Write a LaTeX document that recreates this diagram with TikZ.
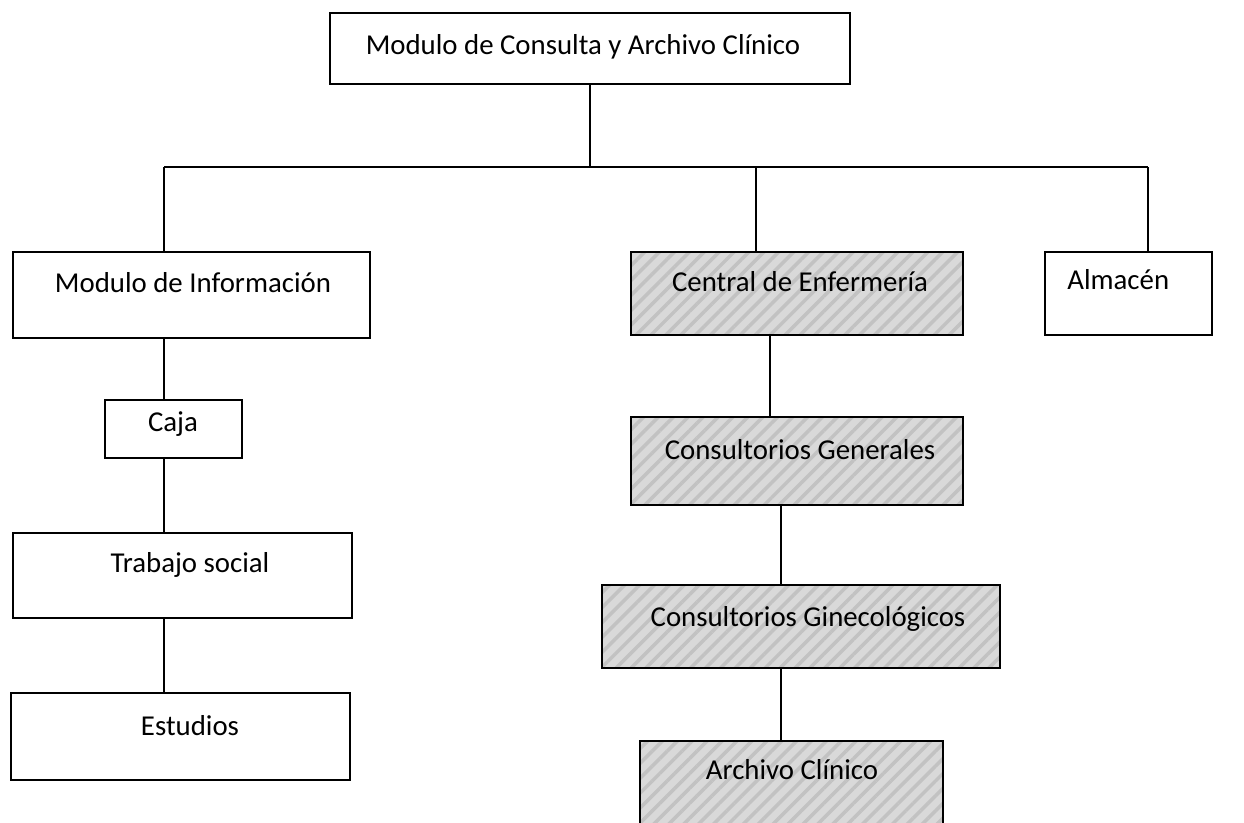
\documentclass[tikz,border=0pt]{standalone}
\usepackage{fontspec}
\setmainfont{Carlito}
\usetikzlibrary{patterns.meta}
\definecolor{hatchbg}{HTML}{D9D9D9}
\definecolor{hatchln}{HTML}{C2C2C2}
\begin{document}
\begin{tikzpicture}[x=0.02cm,y=-0.02cm,
  box/.style={draw=black,line width=1.1pt,rectangle,inner sep=0pt,fill=white},
  shaded/.style={box,fill=hatchbg,
    postaction={pattern={Lines[angle=45,distance=6pt,line width=2pt]},pattern color=hatchln},
    postaction={draw=black,line width=1.1pt}},
  txt/.style={inner sep=0pt,anchor=base,font=\fontsize{16.4}{19}\selectfont},
  link/.style={draw=black,line width=1.1pt}]
\useasboundingbox (0,0) rectangle (1244,822);

% boxes
\node[box,minimum width=10.4cm,minimum height=1.42cm] (top) at (590,48.5) {};
\node[box,minimum width=7.14cm,minimum height=1.72cm] (info) at (191.5,295) {};
\node[shaded,minimum width=6.64cm,minimum height=1.66cm] (central) at (797,293.5) {};
\node[box,minimum width=3.34cm,minimum height=1.66cm] (almacen) at (1128.5,293.5) {};
\node[box,minimum width=2.74cm,minimum height=1.16cm] (caja) at (173.5,429) {};
\node[box,minimum width=6.78cm,minimum height=1.70cm] (trabajo) at (182.5,575.5) {};
\node[box,minimum width=6.78cm,minimum height=1.74cm] (estudios) at (180.5,736.5) {};
\node[shaded,minimum width=6.64cm,minimum height=1.76cm] (consgen) at (797,461) {};
\node[shaded,minimum width=7.96cm,minimum height=1.66cm] (consgin) at (801,626.5) {};
\node[shaded,minimum width=6.06cm,minimum height=2.18cm] (archivo) at (791.5,795.5) {};

% labels
\node[txt] (topT) at (583,54.5) {Modulo de Consulta y Archivo Clínico};
\node[txt] (infoT) at (193,292.5) {Modulo de Información};
\node[txt] (centralT) at (800,291.5) {Central de Enfermería};
\node[txt,anchor=base west] (almacenT) at (1067,289.5) {Almacén};
\node[txt] (cajaT) at (173,431.5) {Caja};
\node[txt] (trabajoT) at (190,572.5) {Trabajo social};
\node[txt] (estudiosT) at (190,735.5) {Estudios};
\node[txt] (consgenT) at (800,459.5) {Consultorios Generales};
\node[txt] (consginT) at (808,626.5) {Consultorios Ginecológicos};
\node[txt] (archivoT) at (792,779.5) {Archivo Clínico};

% junction points on the horizontal bus
\coordinate (jtop) at (590,167);
\coordinate (jinfo) at (164,167);
\coordinate (jcentral) at (756,167);
\coordinate (jalm) at (1148,167);

% connectors
\draw[link] (top.south -| jtop) -- (jtop);
\draw[link] (jinfo) -- (jalm);
\draw[link] (jinfo) -- (jinfo |- info.north);
\draw[link] (jcentral) -- (jcentral |- central.north);
\draw[link] (jalm) -- (jalm |- almacen.north);
\coordinate (xleft) at (164,0);
\draw[link] (info.south -| xleft) -- (caja.north -| xleft);
\draw[link] (caja.south -| xleft) -- (trabajo.north -| xleft);
\draw[link] (trabajo.south -| xleft) -- (estudios.north -| xleft);
\coordinate (xmid) at (770,0);
\coordinate (xright) at (781,0);
\draw[link] (central.south -| xmid) -- (consgen.north -| xmid);
\draw[link] (consgen.south -| xright) -- (consgin.north -| xright);
\draw[link] (consgin.south -| xright) -- (archivo.north -| xright);
\end{tikzpicture}
\end{document}
